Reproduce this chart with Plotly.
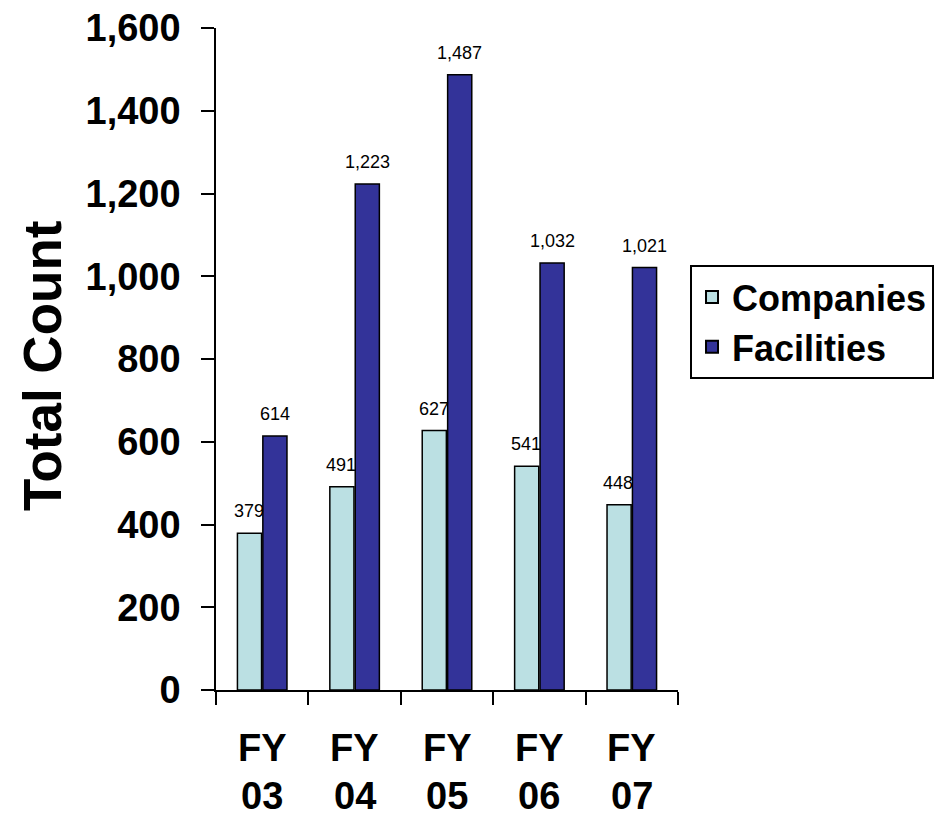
"""Companies and facilities counts by fiscal year, grouped bars."""
from plotly import graph_objects as go

years = ["FY 03", "FY 04", "FY 05", "FY 06", "FY 07"]
year_lines = [("FY", "03"), ("FY", "04"), ("FY", "05"), ("FY", "06"), ("FY", "07")]
companies = [379, 491, 627, 541, 448]
facilities = [614, 1223, 1487, 1032, 1021]
y_ticks = [0, 200, 400, 600, 800, 1000, 1200, 1400, 1600]

FONT = "Arial, Liberation Sans, sans-serif"

fig = go.Figure()
fig.add_trace(
    go.Bar(
        x=years, y=companies, name="Companies",
        marker=dict(color="#BBE0E3", line=dict(color="black", width=1.5)),
    )
)
fig.add_trace(
    go.Bar(
        x=years, y=facilities, name="Facilities",
        marker=dict(color="#333399", line=dict(color="black", width=1.5)),
    )
)

# value labels sitting a little above each bar
for values, shift in ((companies, -13.5), (facilities, 12.7)):
    for cat, v in zip(years, values):
        fig.add_annotation(
            x=cat, y=v, xref="x", yref="y", text=f"{v:,}", showarrow=False,
            xshift=shift, yshift=10, yanchor="bottom",
            font=dict(size=18, color="black", family=FONT),
        )

# two-line category labels under the axis
for cat, (top, bottom) in zip(years, year_lines):
    for text, yy in ((top, -0.087), (bottom, -0.16)):
        fig.add_annotation(
            x=cat, y=yy, xref="x", yref="paper", text=f"<b>{text}</b>",
            showarrow=False, yanchor="middle",
            font=dict(size=38, color="black", family=FONT),
        )

fig.add_annotation(
    x=-0.375, y=0.489, xref="paper", yref="paper", text="<b>Total Count</b>",
    showarrow=False, textangle=-90, font=dict(size=53, color="black", family=FONT),
    xanchor="center", yanchor="middle",
)

fig.update_layout(
    width=943, height=820,
    margin=dict(l=208, r=273, t=20, b=138, autoexpand=False),
    paper_bgcolor="white", plot_bgcolor="white",
    barmode="group", bargap=0.45, bargroupgap=0.05,
    showlegend=True,
    legend=dict(
        x=1.026, y=0.642, xanchor="left", yanchor="top",
        bordercolor="black", borderwidth=2, bgcolor="white",
        font=dict(size=36, color="black", family=FONT, weight="bold"),
        itemsizing="constant",
    ),
    xaxis=dict(
        showticklabels=False, showline=True, linecolor="black", linewidth=1.5,
        ticks="outside", tickson="boundaries", ticklen=13, tickcolor="black",
        tickwidth=1.5, showgrid=False,
    ),
    yaxis=dict(
        range=[0, 1600], tickvals=y_ticks, tickformat=",",
        showline=True, linecolor="black", linewidth=1.5,
        ticks="outside", ticklen=13, tickcolor="black", tickwidth=1.5,
        showgrid=False, zeroline=False,
        tickfont=dict(size=38, color="black", family=FONT, weight="bold"),
        ticklabelstandoff=13, ticklabeloverflow="allow",
    ),
    font=dict(family=FONT, color="black"),
)

fig.write_html("out.html")
